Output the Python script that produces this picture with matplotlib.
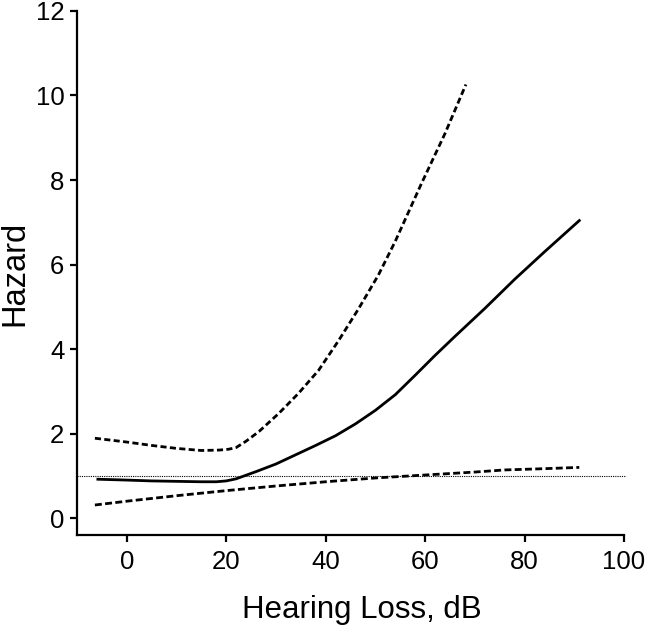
import numpy as np
import matplotlib.pyplot as plt

plt.rcParams['font.family'] = ['Liberation Sans', 'DejaVu Sans']

# hazard estimate
est_x = [-5.8, 0, 5, 10, 15, 18, 20, 22, 26, 30, 34, 38, 42, 46, 50, 54, 58, 62, 66, 72, 78, 84, 91]
est_y = [0.92, 0.90, 0.88, 0.87, 0.86, 0.86, 0.88, 0.93, 1.10, 1.28, 1.50, 1.72, 1.95, 2.23, 2.55, 2.92, 3.38, 3.85, 4.30, 4.96, 5.65, 6.30, 7.04]

# upper confidence limit
up_x = [-6.4, 0, 5, 10, 15, 18.6, 20.5, 22, 24, 26.6, 30.6, 34.6, 38.6, 42.6, 46.6, 50.6, 54, 59.2, 64, 68.2]
up_y = [1.89, 1.80, 1.72, 1.65, 1.60, 1.61, 1.63, 1.67, 1.82, 2.05, 2.48, 2.96, 3.50, 4.20, 4.95, 5.75, 6.55, 7.90, 9.10, 10.26]

# lower confidence limit
lo_x = [-6.4, 0, 10, 20, 30, 40, 50, 60, 70, 76, 84, 91]
lo_y = [0.31, 0.40, 0.53, 0.65, 0.76, 0.86, 0.95, 1.02, 1.09, 1.14, 1.17, 1.20]

fig = plt.figure(figsize=(6.47, 6.27), dpi=100)
ax = fig.add_axes([0.119, 0.1467, 0.8455, 0.8358])

ax.axhline(1, color='black', lw=0.8, ls=(0, (1, 1)), xmin=0, xmax=1.003, clip_on=False)
ax.plot(est_x, est_y, color='black', lw=2)
ax.plot(up_x, up_y, color='black', lw=2, ls=(0, (2.2, 1.2)))
ax.plot(lo_x, lo_y, color='black', lw=2, ls=(0, (2.5, 1.2)))

ax.set_xlim(-10, 100)
ax.set_ylim(-0.4, 12)
ax.set_xticks([0, 20, 40, 60, 80, 100])
ax.set_yticks([0, 2, 4, 6, 8, 10, 12])
ax.spines['top'].set_visible(False)
ax.spines['right'].set_visible(False)
for s in ['left', 'bottom']:
    ax.spines[s].set_linewidth(1.6)
ax.tick_params(width=1.6, length=5, labelsize=18.5)
ax.tick_params(axis='x', pad=6)
ax.tick_params(axis='y', pad=4)
ax.set_xlabel('Hearing Loss, dB', fontsize=22.5)
ax.set_ylabel('Hazard', fontsize=23.5)
ax.xaxis.set_label_coords(0.52, -0.143)
ax.xaxis.label.set_va('center')
ax.yaxis.set_label_coords(-0.113, 0.5)
ax.yaxis.label.set_va('center')

fig.savefig('out.png', dpi=100)
